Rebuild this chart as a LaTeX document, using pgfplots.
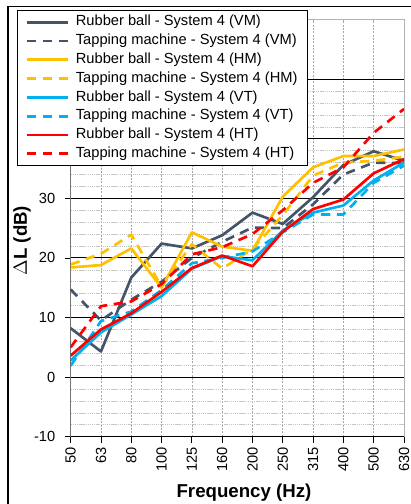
\documentclass[border=0pt]{standalone}
\usepackage{pgfplots}
\pgfplotsset{compat=1.18}
\usepackage{pgfplotstable}
\usepackage{fontspec}
\setmainfont{Liberation Sans}

\definecolor{cvm}{HTML}{44546A}
\definecolor{chm}{HTML}{FFC000}
\definecolor{cvt}{HTML}{00B0F0}
\definecolor{cht}{HTML}{FF0000}

% delta L per one-third octave band (index 0..11 = 50..630 Hz)
\pgfplotstableread{
x  vmr  vmt  hmr  hmt  vtr  vtt  htr  htt
0  8.2  14.7 18.4 18.9 2.8  1.9  3.6  5.0
1  4.3  9.5  18.8 20.7 7.5  9.4  8.0  11.9
2  16.7 13.0 21.6 23.9 10.5 11.0 10.7 12.7
3  22.4 16.0 15.0 15.2 13.6 14.6 14.3 15.6
4  21.6 20.0 24.3 22.3 18.2 19.1 18.3 20.6
5  23.8 22.7 21.9 18.2 20.3 20.0 20.4 21.8
6  27.6 25.1 21.2 21.5 19.6 21.1 18.6 24.0
7  25.7 25.0 30.3 27.2 24.6 24.3 24.4 28.0
8  30.2 29.0 35.2 33.8 27.6 27.3 28.2 32.6
9  35.6 34.0 37.1 36.0 28.8 27.3 29.8 35.2
10 37.9 36.0 37.1 36.3 33.0 32.6 34.2 41.0
11 36.3 35.9 38.2 37.0 36.0 35.5 36.6 45.0
}\dl

\begin{document}
\begin{tikzpicture}[x=1pt,y=1pt]
\path[use as bounding box] (-53,-50.5) rectangle (255.2,327.5);
\draw[black, line width=0.8pt] (-47,-60) -- (-47,322.3) -- (270,322.3);
\begin{axis}[
    at={(0,0)}, anchor=south west,
    scale only axis, width=250pt, height=312.8pt,
    xmin=0, xmax=11, ymin=-10, ymax=60,
    xtick={0,...,11},
    xticklabels={50,63,80,100,125,160,200,250,315,400,500,630},
    ytick={-10,0,...,50},
    minor y tick num=4,
    xtick pos=bottom, ytick pos=left,
    tick align=outside,
    major tick length=4.5pt, minor tick length=0pt,
    tick style={black, line width=0.6pt},
    axis line style={draw=gray!60},
    xmajorgrids, ymajorgrids, yminorgrids,
    major x grid style={gray!70, dash pattern=on 1.5pt off 1pt, line width=0.5pt},
    major y grid style={black, line width=0.7pt},
    minor y grid style={gray!45, dash pattern=on 1pt off 0.6pt, line width=0.4pt},
    /pgf/number format/assume math mode=true,
    ticklabel style={font=\fontsize{11}{13}\selectfont},
    x tick label style={rotate=90, anchor=east},
    y tick label style={xshift=-3.5pt},
    xlabel={Frequency (Hz)},
    ylabel={$\Delta$L (dB)},
    xlabel style={font=\fontsize{14}{16}\selectfont\bfseries,
        at={(axis description cs:0.52,-0.1336)}, anchor=center},
    ylabel style={font=\fontsize{14}{16}\selectfont\bfseries,
        at={(axis description cs:-0.146,0.47)}, anchor=center},
    legend cell align=left,
    legend image code/.code={\draw[#1, line width=2.1pt, line cap=butt] (0pt,0pt) -- (31pt,0pt);},
    legend style={at={(-0.161,1.022)}, anchor=north west,
        font=\fontsize{11}{13}\selectfont, draw=black, line width=0.7pt,
        fill=white, row sep=1.2pt, inner xsep=6pt, inner ysep=2pt,
        nodes={inner sep=1.2pt, text height=8pt, text depth=2.5pt},
        /tikz/every odd column/.append style={column sep=3.5pt}},
    every axis plot/.append style={line width=2pt, line join=round},
    tapping/.style={dash pattern=on 7pt off 5pt},
]
\addplot[cvm] table[x=x, y=vmr] {\dl};
\addlegendentry{Rubber ball - System 4 (VM)}
\addplot[cvm, tapping] table[x=x, y=vmt] {\dl};
\addlegendentry{Tapping machine - System 4 (VM)}
\addplot[chm] table[x=x, y=hmr] {\dl};
\addlegendentry{Rubber ball - System 4 (HM)}
\addplot[chm, tapping] table[x=x, y=hmt] {\dl};
\addlegendentry{Tapping machine - System 4 (HM)}
\addplot[cvt] table[x=x, y=vtr] {\dl};
\addlegendentry{Rubber ball - System 4 (VT)}
\addplot[cvt, tapping] table[x=x, y=vtt] {\dl};
\addlegendentry{Tapping machine - System 4 (VT)}
\addplot[cht] table[x=x, y=htr] {\dl};
\addlegendentry{Rubber ball - System 4 (HT)}
\addplot[cht, tapping] table[x=x, y=htt] {\dl};
\addlegendentry{Tapping machine - System 4 (HT)}
\draw[black, line width=0.8pt] (rel axis cs:0,1) -- (rel axis cs:0,0) -- (rel axis cs:1,0);
\end{axis}
\end{tikzpicture}
\end{document}
